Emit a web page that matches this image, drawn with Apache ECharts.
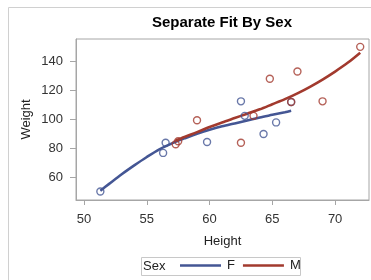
<!DOCTYPE html>
<html>
<head>
<meta charset="utf-8">
<script src="https://cdn.jsdelivr.net/npm/echarts@6/dist/echarts.min.js"></script>
<style>html,body{margin:0;padding:0;background:#fff;}#c{width:371px;height:280px;}</style>
</head>
<body>
<div id="c"></div>
<script>
// Observations (sashelp-like class data)
var heightF = [56.5, 65.3, 62.8, 59.8, 62.5, 51.3, 64.3, 56.3, 66.5];
var weightF = [84, 98, 102.5, 84.5, 112.5, 50.5, 90, 77, 112];
var heightM = [69, 63.5, 57.3, 62.5, 59, 64.8, 67, 57.5, 66.5, 72];
var weightM = [112.5, 102.5, 83, 84, 99.5, 128, 133, 85, 112, 150];
// Fit curves
var fitHeightF = [51.3, 52, 53, 54, 55, 56, 57, 58, 59, 60, 61, 62, 63, 64, 65, 66, 66.5];
var fitWeightF = [51, 55.7, 62.3, 68.4, 74.2, 79.5, 83.6, 87, 90.2, 92.9, 95.3, 97.3, 99.3, 101.4, 103.2, 105, 106];
var fitHeightM = [57.3, 58, 59, 60, 61, 62, 63, 64, 65, 66, 67, 68, 69, 70, 71, 72];
var fitWeightM = [85.5, 88, 91.3, 94.8, 98, 101, 104, 107, 110.5, 114, 118, 122.5, 127.5, 133, 139, 146];
// Tick labels
var xTicks = [50, 55, 60, 65, 70];
var yTicks = [60, 80, 100, 120, 140];
var sexes = ['F', 'M'];

function pairs(a, b) { return a.map(function (v, i) { return [v, b[i]]; }); }

var FONT = '"Liberation Sans", Arial, sans-serif';
var BLUE = '#445694', RED = '#A23A2E', FRAME = '#a6a6a6';

var chart = echarts.init(document.getElementById('c'), null, { renderer: 'canvas' });
chart.setOption({
  animation: false,
  backgroundColor: '#fff',
  title: {
    text: 'Separate Fit By Sex',
    left: 222, top: 15, textAlign: 'center', padding: 0,
    textStyle: { fontFamily: FONT, fontSize: 15, fontWeight: 'bold', color: '#000' }
  },
  graphic: [
    { type: 'rect', shape: { x: 8.5, y: 7.5, width: 400, height: 300 }, style: { fill: 'none', stroke: '#d0d0d0', lineWidth: 1 }, z: -1 },
    { type: 'rect', shape: { x: 141.5, y: 257.5, width: 159, height: 18 }, style: { fill: 'none', stroke: '#c8c8c8', lineWidth: 1 } },
    { type: 'text', x: 143, y: 266.5, style: { text: 'Sex', fontFamily: FONT, fontSize: 13, fill: '#222', textVerticalAlign: 'middle' } }
  ],
  legend: {
    data: sexes,
    left: 180, top: 259, padding: 0,
    icon: 'rect', itemWidth: 41, itemHeight: 2.5, itemGap: 8,
    textStyle: { fontFamily: FONT, fontSize: 13, color: '#222', padding: [0, 0, 0, 1] }
  },
  grid: { left: 76, right: 2, top: 39, bottom: 80, show: true, borderColor: FRAME, borderWidth: 1, containLabel: false },
  xAxis: {
    type: 'value', min: 49.36, max: 72.7,
    name: 'Height', nameLocation: 'middle', nameGap: 35, nameMoveOverlap: false,
    nameTextStyle: { fontFamily: FONT, fontSize: 13, color: '#222' },
    axisLine: { show: true, onZero: false, lineStyle: { color: FRAME } },
    axisTick: { show: true, length: 5, customValues: xTicks, lineStyle: { color: FRAME } },
    axisLabel: { customValues: xTicks, margin: 13, fontFamily: FONT, fontSize: 13, color: '#333' },
    splitLine: { show: false }
  },
  yAxis: {
    type: 'value', min: 44.6, max: 155.4,
    name: 'Weight', nameLocation: 'middle', nameGap: 43, nameMoveOverlap: false,
    nameTextStyle: { fontFamily: FONT, fontSize: 13, color: '#222' },
    axisLine: { show: true, onZero: false, lineStyle: { color: FRAME } },
    axisTick: { show: true, length: 6, customValues: yTicks, lineStyle: { color: FRAME } },
    axisLabel: { customValues: yTicks, margin: 13, fontFamily: FONT, fontSize: 13, color: '#333' },
    splitLine: { show: false }
  },
  series: [
    { name: 'F', type: 'line', color: BLUE, data: pairs(fitHeightF, fitWeightF), smooth: 0.3, showSymbol: false,
      lineStyle: { color: BLUE, width: 2.6 }, z: 3 },
    { name: 'M', type: 'line', color: RED, data: pairs(fitHeightM, fitWeightM), smooth: 0.3, showSymbol: false,
      lineStyle: { color: RED, width: 2.6 }, z: 4 },
    { name: 'F pts', type: 'scatter', data: pairs(heightF, weightF), symbol: 'circle', symbolSize: 7,
      itemStyle: { color: 'rgba(0,0,0,0)', borderColor: BLUE, borderWidth: 1.4 }, z: 5 },
    { name: 'M pts', type: 'scatter', data: pairs(heightM, weightM), symbol: 'circle', symbolSize: 7,
      itemStyle: { color: 'rgba(0,0,0,0)', borderColor: RED, borderWidth: 1.4 }, z: 6 }
  ]
});
</script>
</body>
</html>
